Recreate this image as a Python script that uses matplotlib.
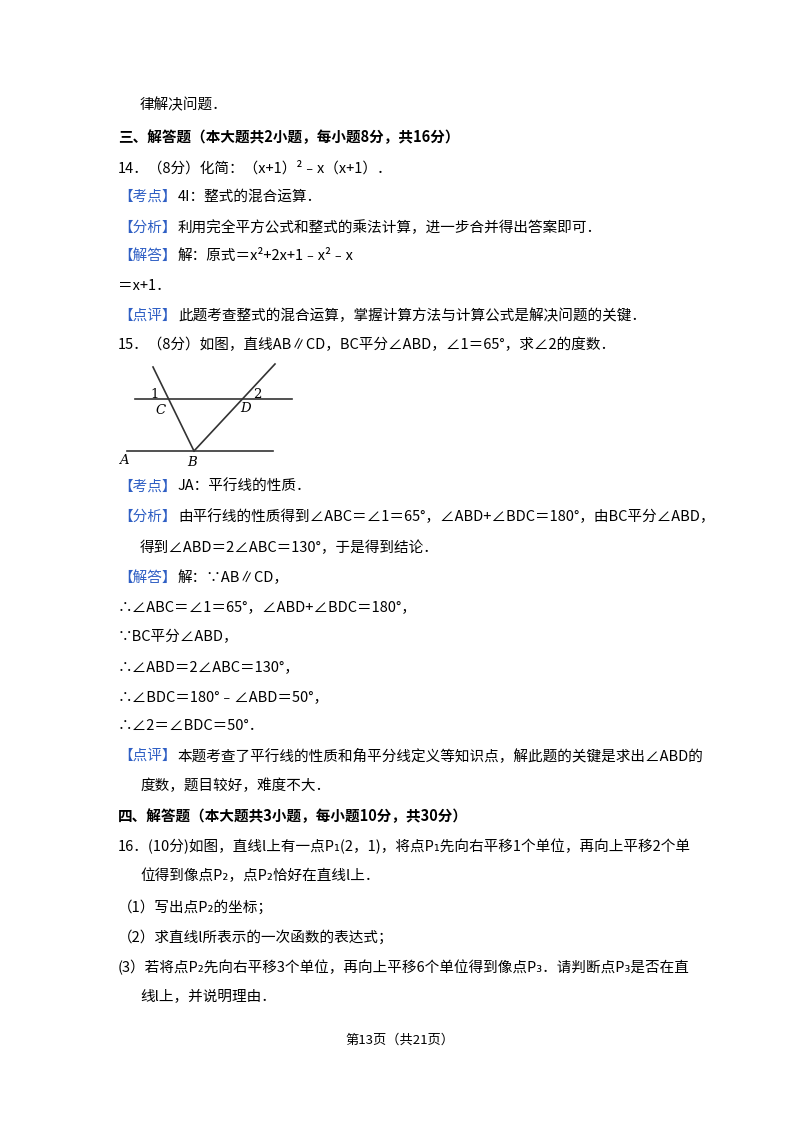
import matplotlib
matplotlib.use('Agg')
import matplotlib.pyplot as plt

plt.rcParams['font.family'] = ['Noto Sans CJK SC', 'DejaVu Sans']
BLUE = '#2f5fc4'
FS = 10.5

# (y, x, label, text, bold)
lines = [
    (105, 140, None, '律解决问题．', False),
    (137, 118, None, '三、解答题（本大题共2小题，每小题8分，共16分）', True),
    (168, 118, None, '14．（8分）化简：（x+1）²﹣x（x+1）．', False),
    (197, 118, '【考点】', '4I：整式的混合运算．', False),
    (228, 118, '【分析】', '利用完全平方公式和整式的乘法计算，进一步合并得出答案即可．', False),
    (256, 118, '【解答】', '解：原式＝x²+2x+1﹣x²﹣x', False),
    (286, 118, None, '＝x+1．', False),
    (316, 118, '【点评】', '此题考查整式的混合运算，掌握计算方法与计算公式是解决问题的关键．', False),
    (345, 118, None, '15．（8分）如图，直线AB∥CD，BC平分∠ABD，∠1＝65°，求∠2的度数．', False),
    (487, 118, '【考点】', 'JA：平行线的性质．', False),
    (517, 118, '【分析】', '由平行线的性质得到∠ABC＝∠1＝65°，∠ABD+∠BDC＝180°，由BC平分∠ABD，', False),
    (548, 140, None, '得到∠ABD＝2∠ABC＝130°，于是得到结论．', False),
    (578, 118, '【解答】', '解：∵AB∥CD，', False),
    (607, 118, None, '∴∠ABC＝∠1＝65°，∠ABD+∠BDC＝180°，', False),
    (637, 118, None, '∵BC平分∠ABD，', False),
    (667, 118, None, '∴∠ABD＝2∠ABC＝130°，', False),
    (697, 118, None, '∴∠BDC＝180°﹣∠ABD＝50°，', False),
    (726, 118, None, '∴∠2＝∠BDC＝50°．', False),
    (756, 118, '【点评】', '本题考查了平行线的性质和角平分线定义等知识点，解此题的关键是求出∠ABD的', False),
    (786, 140, None, '度数，题目较好，难度不大．', False),
    (816, 118, None, '四、解答题（本大题共3小题，每小题10分，共30分）', True),
    (846, 118, None, '16．(10分)如图，直线l上有一点P₁(2，1)，将点P₁先向右平移1个单位，再向上平移2个单', False),
    (876, 140, None, '位得到像点P₂，点P₂恰好在直线l上．', False),
    (907, 118, None, '（1）写出点P₂的坐标；', False),
    (937, 118, None, '（2）求直线l所表示的一次函数的表达式；', False),
    (967, 118, None, '(3）若将点P₂先向右平移3个单位，再向上平移6个单位得到像点P₃．请判断点P₃是否在直', False),
    (997, 140, None, '线l上，并说明理由．', False),
]

# geometry figure (pixel coords)
seg_x = [[135, 292], [127, 273], [153, 194], [194, 275]]
seg_y = [[399, 399], [451, 451], [367, 451], [451, 364]]
pt_names = ['1', 'C', '2', 'D', 'A', 'B']
pt_x = [155, 161, 257, 246, 124, 192]
pt_y = [394, 410, 395, 409, 461, 462]

fig = plt.figure(figsize=(8, 11.32), dpi=100)
ax = fig.add_axes([0, 0, 1, 1])
ax.set_xlim(0, 800)
ax.set_ylim(1132, 0)
ax.axis('off')

for y, x, lab, txt, bold in lines:
    w = 'bold' if bold else 'normal'
    if lab:
        ax.text(x, y, lab, fontsize=FS, color=BLUE, va='center', ha='left')
        x += 60
    ax.text(x, y, txt, fontsize=FS, color='black', va='center', ha='left', fontweight=w)

for xs, ys in zip(seg_x, seg_y):
    ax.plot(xs, ys, color='#333333', lw=1.2)
for n, x, y in zip(pt_names, pt_x, pt_y):
    st = 'normal' if n.isdigit() else 'italic'
    ax.text(x, y, n, fontsize=9.5, style=st, family='DejaVu Serif', ha='center', va='center')

ax.text(400, 1040, '第13页（共21页）', fontsize=9.5, ha='center', va='center')

fig.savefig('out.png', dpi=100, facecolor='white')
